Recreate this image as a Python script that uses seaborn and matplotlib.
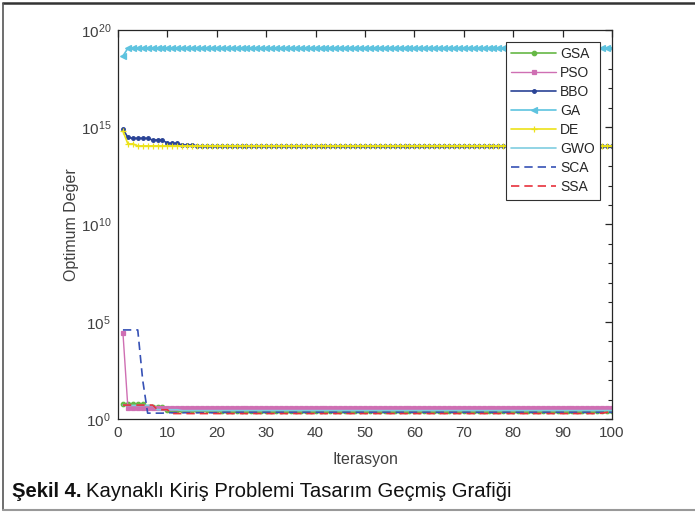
import matplotlib
matplotlib.use("Agg")
import matplotlib.pyplot as plt
from matplotlib import font_manager
from matplotlib.lines import Line2D
from matplotlib.ticker import LogFormatterMathtext, NullFormatter
import numpy as np
import pandas as pd
import seaborn as sns

# ---------------- data ----------------
iterations = list(range(1, 101))

GSA = [5.7, 5.7, 5.7, 5.7, 5.7, 4.2, 4.2, 4.2, 4.2, 3.0,
       3.0, 3.0, 3.0, 3.0, 3.0, 3.0, 3.0, 3.0, 3.0, 3.0,
       2.6, 2.6, 2.6, 2.6, 2.6, 2.6, 2.6, 2.6, 2.6, 2.6,
       2.6, 2.6, 2.6, 2.6, 2.6, 2.6, 2.6, 2.6, 2.6, 2.6,
       2.6, 2.6, 2.6, 2.6, 2.6, 2.6, 2.6, 2.6, 2.6, 2.6,
       2.6, 2.6, 2.6, 2.6, 2.6, 2.6, 2.6, 2.6, 2.6, 2.6,
       2.6, 2.6, 2.6, 2.6, 2.6, 2.6, 2.6, 2.6, 2.6, 2.6,
       2.6, 2.6, 2.6, 2.6, 2.6, 2.6, 2.6, 2.6, 2.6, 2.6,
       2.6, 2.6, 2.6, 2.6, 2.6, 2.6, 2.6, 2.6, 2.6, 2.6,
       2.6, 2.6, 2.6, 2.6, 2.6, 2.6, 2.6, 2.6, 2.6, 2.6]

PSO = [2.7e4, 3.8, 3.8, 3.8, 3.8, 3.8, 3.8, 3.8, 3.6, 3.6,
       3.6, 3.6, 3.6, 3.6, 3.6, 3.6, 3.6, 3.6, 3.6, 3.6,
       3.5, 3.5, 3.5, 3.5, 3.5, 3.5, 3.5, 3.5, 3.5, 3.5,
       3.5, 3.5, 3.5, 3.5, 3.5, 3.5, 3.5, 3.5, 3.5, 3.5,
       3.5, 3.5, 3.5, 3.5, 3.5, 3.5, 3.5, 3.5, 3.5, 3.5,
       3.5, 3.5, 3.5, 3.5, 3.5, 3.5, 3.5, 3.5, 3.5, 3.5,
       3.5, 3.5, 3.5, 3.5, 3.5, 3.5, 3.5, 3.5, 3.5, 3.5,
       3.5, 3.5, 3.5, 3.5, 3.5, 3.5, 3.5, 3.5, 3.5, 3.5,
       3.5, 3.5, 3.5, 3.5, 3.5, 3.5, 3.5, 3.5, 3.5, 3.5,
       3.5, 3.5, 3.5, 3.5, 3.5, 3.5, 3.5, 3.5, 3.5, 3.5]

BBO = [8.0e14, 3.0e14, 2.7e14, 2.7e14, 2.7e14, 2.7e14, 2.2e14, 2.2e14, 2.2e14, 1.5e14,
       1.5e14, 1.5e14, 1.2e14, 1.2e14, 1.2e14, 1.1e14, 1.1e14, 1.1e14, 1.1e14, 1.1e14,
       1.1e14, 1.1e14, 1.1e14, 1.1e14, 1.1e14, 1.1e14, 1.1e14, 1.1e14, 1.1e14, 1.1e14,
       1.1e14, 1.1e14, 1.1e14, 1.1e14, 1.1e14, 1.1e14, 1.1e14, 1.1e14, 1.1e14, 1.1e14,
       1.1e14, 1.1e14, 1.1e14, 1.1e14, 1.1e14, 1.1e14, 1.1e14, 1.1e14, 1.1e14, 1.1e14,
       1.1e14, 1.1e14, 1.1e14, 1.1e14, 1.1e14, 1.1e14, 1.1e14, 1.1e14, 1.1e14, 1.1e14,
       1.1e14, 1.1e14, 1.1e14, 1.1e14, 1.1e14, 1.1e14, 1.1e14, 1.1e14, 1.1e14, 1.1e14,
       1.1e14, 1.1e14, 1.1e14, 1.1e14, 1.1e14, 1.1e14, 1.1e14, 1.1e14, 1.1e14, 1.1e14,
       1.1e14, 1.1e14, 1.1e14, 1.1e14, 1.1e14, 1.1e14, 1.1e14, 1.1e14, 1.1e14, 1.1e14,
       1.1e14, 1.1e14, 1.1e14, 1.1e14, 1.1e14, 1.1e14, 1.1e14, 1.1e14, 1.1e14, 1.1e14]

GA = [4.6e18, 1.15e19, 1.15e19, 1.15e19, 1.15e19, 1.15e19, 1.15e19, 1.15e19, 1.15e19, 1.15e19,
      1.15e19, 1.15e19, 1.15e19, 1.15e19, 1.15e19, 1.15e19, 1.15e19, 1.15e19, 1.15e19, 1.15e19,
      1.15e19, 1.15e19, 1.15e19, 1.15e19, 1.15e19, 1.15e19, 1.15e19, 1.15e19, 1.15e19, 1.15e19,
      1.15e19, 1.15e19, 1.15e19, 1.15e19, 1.15e19, 1.15e19, 1.15e19, 1.15e19, 1.15e19, 1.15e19,
      1.15e19, 1.15e19, 1.15e19, 1.15e19, 1.15e19, 1.15e19, 1.15e19, 1.15e19, 1.15e19, 1.15e19,
      1.15e19, 1.15e19, 1.15e19, 1.15e19, 1.15e19, 1.15e19, 1.15e19, 1.15e19, 1.15e19, 1.15e19,
      1.15e19, 1.15e19, 1.15e19, 1.15e19, 1.15e19, 1.15e19, 1.15e19, 1.15e19, 1.15e19, 1.15e19,
      1.15e19, 1.15e19, 1.15e19, 1.15e19, 1.15e19, 1.15e19, 1.15e19, 1.15e19, 1.15e19, 1.15e19,
      1.15e19, 1.15e19, 1.15e19, 1.15e19, 1.15e19, 1.15e19, 1.15e19, 1.15e19, 1.15e19, 1.15e19,
      1.15e19, 1.15e19, 1.15e19, 1.15e19, 1.15e19, 1.15e19, 1.15e19, 1.15e19, 1.15e19, 1.15e19]

DE = [6.3e14, 1.4e14, 1.4e14, 1.1e14, 1.1e14, 1.1e14, 1.1e14, 1.1e14, 1.1e14, 1.1e14,
      1.1e14, 1.1e14, 1.1e14, 1.1e14, 1.1e14, 1.1e14, 1.1e14, 1.1e14, 1.1e14, 1.1e14,
      1.1e14, 1.1e14, 1.1e14, 1.1e14, 1.1e14, 1.1e14, 1.1e14, 1.1e14, 1.1e14, 1.1e14,
      1.1e14, 1.1e14, 1.1e14, 1.1e14, 1.1e14, 1.1e14, 1.1e14, 1.1e14, 1.1e14, 1.1e14,
      1.1e14, 1.1e14, 1.1e14, 1.1e14, 1.1e14, 1.1e14, 1.1e14, 1.1e14, 1.1e14, 1.1e14,
      1.1e14, 1.1e14, 1.1e14, 1.1e14, 1.1e14, 1.1e14, 1.1e14, 1.1e14, 1.1e14, 1.1e14,
      1.1e14, 1.1e14, 1.1e14, 1.1e14, 1.1e14, 1.1e14, 1.1e14, 1.1e14, 1.1e14, 1.1e14,
      1.1e14, 1.1e14, 1.1e14, 1.1e14, 1.1e14, 1.1e14, 1.1e14, 1.1e14, 1.1e14, 1.1e14,
      1.1e14, 1.1e14, 1.1e14, 1.1e14, 1.1e14, 1.1e14, 1.1e14, 1.1e14, 1.1e14, 1.1e14,
      1.1e14, 1.1e14, 1.1e14, 1.1e14, 1.1e14, 1.1e14, 1.1e14, 1.1e14, 1.1e14, 1.1e14]

GWO = [5.2, 5.0, 5.0, 5.0, 5.0, 5.0, 5.0, 3.0, 3.0, 3.0,
       3.0, 3.0, 2.7, 2.7, 2.7, 2.7, 2.7, 2.7, 2.7, 2.7,
       2.7, 2.7, 2.7, 2.7, 2.7, 2.7, 2.7, 2.7, 2.7, 2.7,
       2.7, 2.7, 2.7, 2.7, 2.7, 2.7, 2.7, 2.7, 2.7, 2.7,
       2.7, 2.7, 2.7, 2.7, 2.7, 2.7, 2.7, 2.7, 2.7, 2.7,
       2.7, 2.7, 2.7, 2.7, 2.7, 2.7, 2.7, 2.7, 2.7, 2.7,
       2.7, 2.7, 2.7, 2.7, 2.7, 2.7, 2.7, 2.7, 2.7, 2.7,
       2.7, 2.7, 2.7, 2.7, 2.7, 2.7, 2.7, 2.7, 2.7, 2.7,
       2.7, 2.7, 2.7, 2.7, 2.7, 2.7, 2.7, 2.7, 2.7, 2.7,
       2.7, 2.7, 2.7, 2.7, 2.7, 2.7, 2.7, 2.7, 2.7, 2.7]

SCA = [3.8e4, 3.8e4, 3.8e4, 3.8e4, 1.0e2, 2.0, 2.0, 2.0, 2.0, 2.1,
       2.1, 2.1, 2.1, 2.1, 2.1, 2.1, 2.1, 2.1, 2.1, 2.1,
       2.2, 2.2, 2.2, 2.2, 2.2, 2.2, 2.2, 2.2, 2.2, 2.2,
       2.2, 2.2, 2.2, 2.2, 2.2, 2.2, 2.2, 2.2, 2.2, 2.2,
       2.2, 2.2, 2.2, 2.2, 2.2, 2.2, 2.2, 2.2, 2.2, 2.2,
       2.2, 2.2, 2.2, 2.2, 2.2, 2.2, 2.2, 2.2, 2.2, 2.2,
       2.2, 2.2, 2.2, 2.2, 2.2, 2.2, 2.2, 2.2, 2.2, 2.2,
       2.2, 2.2, 2.2, 2.2, 2.2, 2.2, 2.2, 2.2, 2.2, 2.2,
       2.2, 2.2, 2.2, 2.2, 2.2, 2.2, 2.2, 2.2, 2.2, 2.2,
       2.2, 2.2, 2.2, 2.2, 2.2, 2.2, 2.2, 2.2, 2.2, 2.2]

SSA = [5.2, 5.2, 5.2, 5.2, 5.2, 5.2, 5.2, 3.0, 3.0, 3.0,
       1.9, 1.9, 1.9, 1.9, 1.9, 1.9, 1.9, 1.9, 1.9, 1.9,
       1.9, 1.9, 1.9, 1.9, 1.9, 1.9, 1.9, 1.9, 1.9, 1.9,
       1.9, 1.9, 1.9, 1.9, 1.9, 1.9, 1.9, 1.9, 1.9, 1.9,
       1.9, 1.9, 1.9, 1.9, 1.9, 1.9, 1.9, 1.9, 1.9, 1.9,
       1.9, 1.9, 1.9, 1.9, 1.9, 1.9, 1.9, 1.9, 1.9, 1.9,
       1.9, 1.9, 1.9, 1.9, 1.9, 1.9, 1.9, 1.9, 1.9, 1.9,
       1.9, 1.9, 1.9, 1.9, 1.9, 1.9, 1.9, 1.9, 1.9, 1.9,
       1.9, 1.9, 1.9, 1.9, 1.9, 1.9, 1.9, 1.9, 1.9, 1.9,
       1.9, 1.9, 1.9, 1.9, 1.9, 1.9, 1.9, 2.0, 2.2, 2.5]

series_names = ["GSA", "PSO", "BBO", "GA", "DE", "GWO", "SCA", "SSA"]
series_values = [GSA, PSO, BBO, GA, DE, GWO, SCA, SSA]

x_ticks = [0, 10, 20, 30, 40, 50, 60, 70, 80, 90, 100]
y_major_exp = [0, 5, 10, 15, 20]

# ---------------- style ----------------
sns.set_style("white")
available = {f.name for f in font_manager.fontManager.ttflist}
base_font = "Liberation Sans" if "Liberation Sans" in available else "DejaVu Sans"
if "Liberation Sans Narrow" in available:
    cap_font, cap_size = "Liberation Sans Narrow", 15.5
else:
    cap_font, cap_size = base_font, 14.6
plt.rcParams["font.family"] = [base_font, "DejaVu Sans"]
plt.rcParams["mathtext.fontset"] = "custom"
plt.rcParams["mathtext.rm"] = base_font
plt.rcParams["mathtext.it"] = base_font

styles = {
    "GSA": dict(color="#66b845", marker="o", markersize=3.2, linestyle="-", lw=1.2),
    "PSO": dict(color="#cf6fb3", marker="s", markersize=2.6, linestyle="-", lw=1.0),
    "BBO": dict(color="#2a4396", marker="o", markersize=2.6, linestyle="-", lw=1.2),
    "GA":  dict(color="#5ec3df", marker="<", markersize=4.8, linestyle="-", lw=1.2),
    "DE":  dict(color="#ece219", marker="+", markersize=4.0, linestyle="-", lw=1.2),
    "GWO": dict(color="#7fcde0", marker=None, linestyle="-", lw=1.2),
    "SCA": dict(color="#3651b5", marker=None, linestyle=(0, (5, 3)), lw=1.2),
    "SSA": dict(color="#e8313c", marker=None, linestyle=(0, (5, 3)), lw=1.2),
}

fig = plt.figure(figsize=(6.95, 5.12), dpi=100)
ax = fig.add_axes([118 / 695, 1 - 419 / 512, (612 - 118) / 695, (419 - 30) / 512])

for name, vals in zip(series_names, series_values):
    df = pd.DataFrame({"Iterasyon": iterations, "value": vals})
    st = styles[name]
    kw = dict(color=st["color"], linestyle=st["linestyle"], linewidth=st["lw"], label=name)
    if st["marker"] is not None:
        kw.update(marker=st["marker"], markersize=st["markersize"],
                  markeredgecolor=st["color"], markerfacecolor=st["color"],
                  markeredgewidth=0.9)
    sns.lineplot(data=df, x="Iterasyon", y="value", ax=ax, **kw)

ax.set_yscale("log")
ax.set_xlim(0, 100)
ax.set_ylim(1, 1e20)
ax.set_xticks(x_ticks)
ax.set_yticks([10.0 ** e for e in y_major_exp])
ax.set_yticks([10.0 ** e for e in range(21) if e % 5], minor=True)
ax.yaxis.set_major_formatter(LogFormatterMathtext())
ax.yaxis.set_minor_formatter(NullFormatter())

txt_col = "#404040"
spine_col = "#262626"
for s in ax.spines.values():
    s.set_color(spine_col)
    s.set_linewidth(0.9)
ax.tick_params(which="both", direction="in", top=True, right=True,
               color=spine_col, labelcolor=txt_col, labelsize=11)
ax.tick_params(which="major", length=5, width=0.9, pad=5)
ax.tick_params(which="minor", length=3, width=0.8)

ax.set_xlabel("Iterasyon", fontsize=11.5, color=txt_col, labelpad=9)
ax.set_ylabel("Optimum Değer", fontsize=11.5, color=txt_col, labelpad=1)

leg = ax.legend(loc="upper right", bbox_to_anchor=(1, 1), borderaxespad=0.85,
                fontsize=10, numpoints=1, handlelength=3.2, handletextpad=0.3,
                labelspacing=0.36, borderpad=0.4, fancybox=False, framealpha=1,
                edgecolor="#303030")
leg.get_frame().set_linewidth(0.8)
for t in leg.get_texts():
    t.set_color("#262626")

# outer frame (top, left, bottom)
fig.add_artist(Line2D([3 / 695, 1.0], [1 - 3 / 512, 1 - 3 / 512], transform=fig.transFigure,
                      color="#333333", linewidth=1.8))
fig.add_artist(Line2D([3 / 695, 3 / 695], [1 - 3 / 512, 1 - 510 / 512], transform=fig.transFigure,
                      color="#555555", linewidth=1.2))
fig.add_artist(Line2D([3 / 695, 1.0], [1 - 510 / 512, 1 - 510 / 512], transform=fig.transFigure,
                      color="#999999", linewidth=1.5))

# caption
cap_y = 1 - 497 / 512
t1 = fig.text(12 / 695, cap_y, "Şekil 4.", fontsize=cap_size, fontweight="bold",
              family=[cap_font, "DejaVu Sans"], color="#111111", va="baseline")
fig.canvas.draw()
bb = t1.get_window_extent(renderer=fig.canvas.get_renderer())
x2 = (bb.x1 + 5) / fig.bbox.width
fig.text(x2, cap_y, "Kaynaklı Kiriş Problemi Tasarım Geçmiş Grafiği", fontsize=cap_size,
         family=[cap_font, "DejaVu Sans"], color="#111111", va="baseline")

fig.savefig("out.png", dpi=100)
